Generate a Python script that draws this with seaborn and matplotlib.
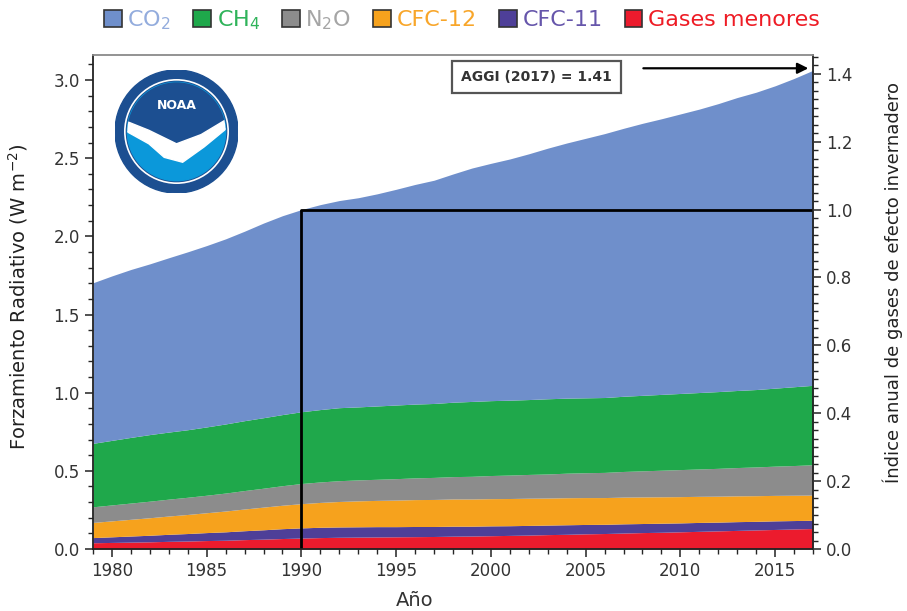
import numpy as np
import pandas as pd
import matplotlib
matplotlib.use("Agg")
import matplotlib.pyplot as plt
import seaborn as sns
from matplotlib.patches import Patch, Circle, Polygon
from matplotlib.ticker import MultipleLocator, AutoMinorLocator

# years and radiative forcing per gas (W m-2)
years = list(range(1979, 2018))
co2 = [1.027, 1.052, 1.074, 1.092, 1.115, 1.138, 1.160, 1.184, 1.212, 1.245,
       1.272, 1.293, 1.311, 1.325, 1.338, 1.357, 1.380, 1.405, 1.428, 1.460,
       1.493, 1.518, 1.543, 1.572, 1.603, 1.632, 1.660, 1.688, 1.714, 1.740,
       1.763, 1.788, 1.813, 1.842, 1.874, 1.902, 1.934, 1.972, 2.015]
ch4 = [0.406, 0.413, 0.420, 0.426, 0.429, 0.432, 0.437, 0.442, 0.447, 0.451,
       0.455, 0.459, 0.463, 0.467, 0.467, 0.469, 0.471, 0.472, 0.473, 0.476,
       0.479, 0.479, 0.479, 0.479, 0.481, 0.480, 0.479, 0.479, 0.481, 0.483,
       0.485, 0.487, 0.489, 0.491, 0.493, 0.495, 0.499, 0.504, 0.508]
n2o = [0.100, 0.102, 0.104, 0.106, 0.108, 0.110, 0.112, 0.115, 0.118, 0.121,
       0.125, 0.129, 0.131, 0.133, 0.134, 0.135, 0.137, 0.139, 0.141, 0.143,
       0.145, 0.148, 0.150, 0.152, 0.154, 0.157, 0.159, 0.161, 0.164, 0.167,
       0.170, 0.173, 0.175, 0.178, 0.181, 0.184, 0.187, 0.190, 0.194]
cfc12 = [0.097, 0.102, 0.107, 0.112, 0.117, 0.122, 0.127, 0.133, 0.139, 0.145,
         0.150, 0.155, 0.159, 0.163, 0.166, 0.168, 0.170, 0.172, 0.173, 0.174,
         0.174, 0.174, 0.174, 0.174, 0.173, 0.173, 0.172, 0.171, 0.171, 0.170,
         0.169, 0.168, 0.167, 0.166, 0.165, 0.164, 0.163, 0.162, 0.161]
cfc11 = [0.033, 0.036, 0.039, 0.042, 0.045, 0.048, 0.051, 0.054, 0.057, 0.060,
         0.063, 0.065, 0.066, 0.066, 0.066, 0.066, 0.065, 0.065, 0.064, 0.064,
         0.063, 0.063, 0.062, 0.062, 0.061, 0.061, 0.060, 0.059, 0.059, 0.058,
         0.058, 0.057, 0.057, 0.056, 0.056, 0.055, 0.055, 0.054, 0.053]
minor = [0.040, 0.042, 0.044, 0.046, 0.049, 0.051, 0.054, 0.056, 0.060, 0.063,
         0.067, 0.070, 0.073, 0.075, 0.076, 0.077, 0.078, 0.079, 0.080, 0.082,
         0.083, 0.085, 0.087, 0.089, 0.092, 0.094, 0.097, 0.099, 0.102, 0.105,
         0.107, 0.110, 0.113, 0.116, 0.119, 0.122, 0.125, 0.128, 0.131]

labels = ["CO$_2$", "CH$_4$", "N$_2$O", "CFC-12", "CFC-11", "Gases menores"]
fill_colors = ["#6f8fcb", "#1fa84b", "#8c8c8c", "#f6a21d", "#4e3f98", "#ec1b2d"]
text_colors = ["#93acdd", "#2fb35a", "#a5a5a5", "#f8a62a", "#6656ab", "#ee1c25"]

df = pd.DataFrame({"year": years, "co2": co2, "ch4": ch4, "n2o": n2o,
                   "cfc12": cfc12, "cfc11": cfc11, "minor": minor})
df["total"] = df[["co2", "ch4", "n2o", "cfc12", "cfc11", "minor"]].sum(axis=1)
base = df.loc[df.year == 1990, "total"].iloc[0]
aggi = df["total"].iloc[-1] / base

sns.set_theme(style="ticks")
plt.rcParams["font.family"] = ["DejaVu Sans"]
plt.rcParams["mathtext.default"] = "regular"

fig = plt.figure(figsize=(9.07, 6.11), dpi=100)
ax = fig.add_axes([93/907, 62/611, 720/907, 494/611])

# stacked from the bottom: minor gases up to CO2
ax.stackplot(df.year, df.minor, df.cfc11, df.cfc12, df.n2o, df.ch4, df.co2,
             colors=fill_colors[::-1], linewidth=0)

ymax = 3.16
ax.set_xlim(1979, 2017)
ax.set_ylim(0, ymax)
ax.xaxis.set_major_locator(MultipleLocator(5))
ax.xaxis.set_minor_locator(MultipleLocator(1))
ax.yaxis.set_major_locator(MultipleLocator(0.5))
ax.yaxis.set_minor_locator(MultipleLocator(0.1))
ax.tick_params(which="major", length=6, width=1.2, labelsize=12, colors="#333333")
ax.tick_params(which="minor", length=3.5, width=1)
for s in ["left", "bottom", "right"]:
    ax.spines[s].set_color("#222222")
    ax.spines[s].set_linewidth(1.3)
ax.spines["top"].set_color("#8a8a8a")
ax.spines["top"].set_linewidth(1.3)

ax.set_xlabel("Año", fontsize=14, color="#333333")
ax.xaxis.set_label_coords(0.447, -0.085)
ax.set_ylabel("Forzamiento Radiativo (W m$^{-2}$)", fontsize=14, color="#222222")
ax.yaxis.set_label_coords(-0.088, 0.51)

ax2 = ax.twinx()
ax2.set_ylim(0, ymax / base)
ax2.yaxis.set_major_locator(MultipleLocator(0.2))
ax2.yaxis.set_minor_locator(AutoMinorLocator(8))
ax2.tick_params(which="major", length=6, width=1.2, labelsize=12, colors="#333333")
ax2.tick_params(which="minor", length=3.5, width=1)
for s in ax2.spines.values():
    s.set_visible(False)
ax2.set_ylabel("Índice anual de gases de efecto invernadero", fontsize=13,
               color="#222222")
ax2.yaxis.set_label_coords(1.096, 0.54)

# 1990 reference lines (index = 1)
ax.plot([1990, 1990], [0, base], color="black", lw=2, solid_capstyle="butt")
ax.plot([1990, 2017], [base, base], color="black", lw=2)

ax.annotate("", xy=(2016.9, 3.075), xytext=(2007.9, 3.075),
            arrowprops=dict(arrowstyle="-|>", color="black", lw=1.6,
                            mutation_scale=16))
ax.text(2002.4, 3.02, f"AGGI (2017) = {aggi:.2f}", ha="center", va="center",
        fontsize=10, fontweight="bold", color="#333333",
        bbox=dict(boxstyle="square,pad=0.65", fc="white", ec="#555555", lw=1.6))

# legend across the top
handles = [Patch(facecolor=c, edgecolor="#333333", linewidth=1.2) for c in fill_colors]
leg = fig.legend(handles, labels, loc="center", bbox_to_anchor=(462/907, 1 - 20/611),
                 ncol=6, frameon=False, fontsize=16, handlelength=0.8,
                 handleheight=0.8, handletextpad=0.25, columnspacing=1.0)
for t, c in zip(leg.get_texts(), text_colors):
    t.set_color(c)

# simple NOAA seal
logo = fig.add_axes([115/907, (611-193)/611, 123/907, 123/611])
logo.set_xlim(-1, 1)
logo.set_ylim(-1, 1)
logo.set_aspect("equal")
logo.axis("off")
logo.add_patch(Circle((0, 0), 1.0, color="#1c4f91"))
logo.add_patch(Circle((0, 0), 0.84, fill=False, ec="white", lw=1.2))
inner = Circle((0, 0), 0.8, color="#0b98da")
logo.add_patch(inner)
upper = Polygon([(-0.9, 0.2), (-0.45, 0.02), (0.0, -0.2), (0.4, -0.05),
                 (0.9, 0.25), (0.9, 1), (-0.9, 1)], closed=True, color="#1c4f91")
logo.add_patch(upper)
upper.set_clip_path(inner)
gull = Polygon([(-0.9, 0.2), (-0.45, 0.02), (0.0, -0.2), (0.4, -0.05), (0.9, 0.25),
                (0.9, 0.12), (0.45, -0.25), (0.1, -0.5), (-0.2, -0.42),
                (-0.45, -0.2), (-0.9, 0.05)], closed=True, color="white")
logo.add_patch(gull)
gull.set_clip_path(inner)
logo.text(0, 0.42, "NOAA", ha="center", va="center", color="white",
          fontsize=9, fontweight="bold")

fig.savefig("out.png", dpi=100)
